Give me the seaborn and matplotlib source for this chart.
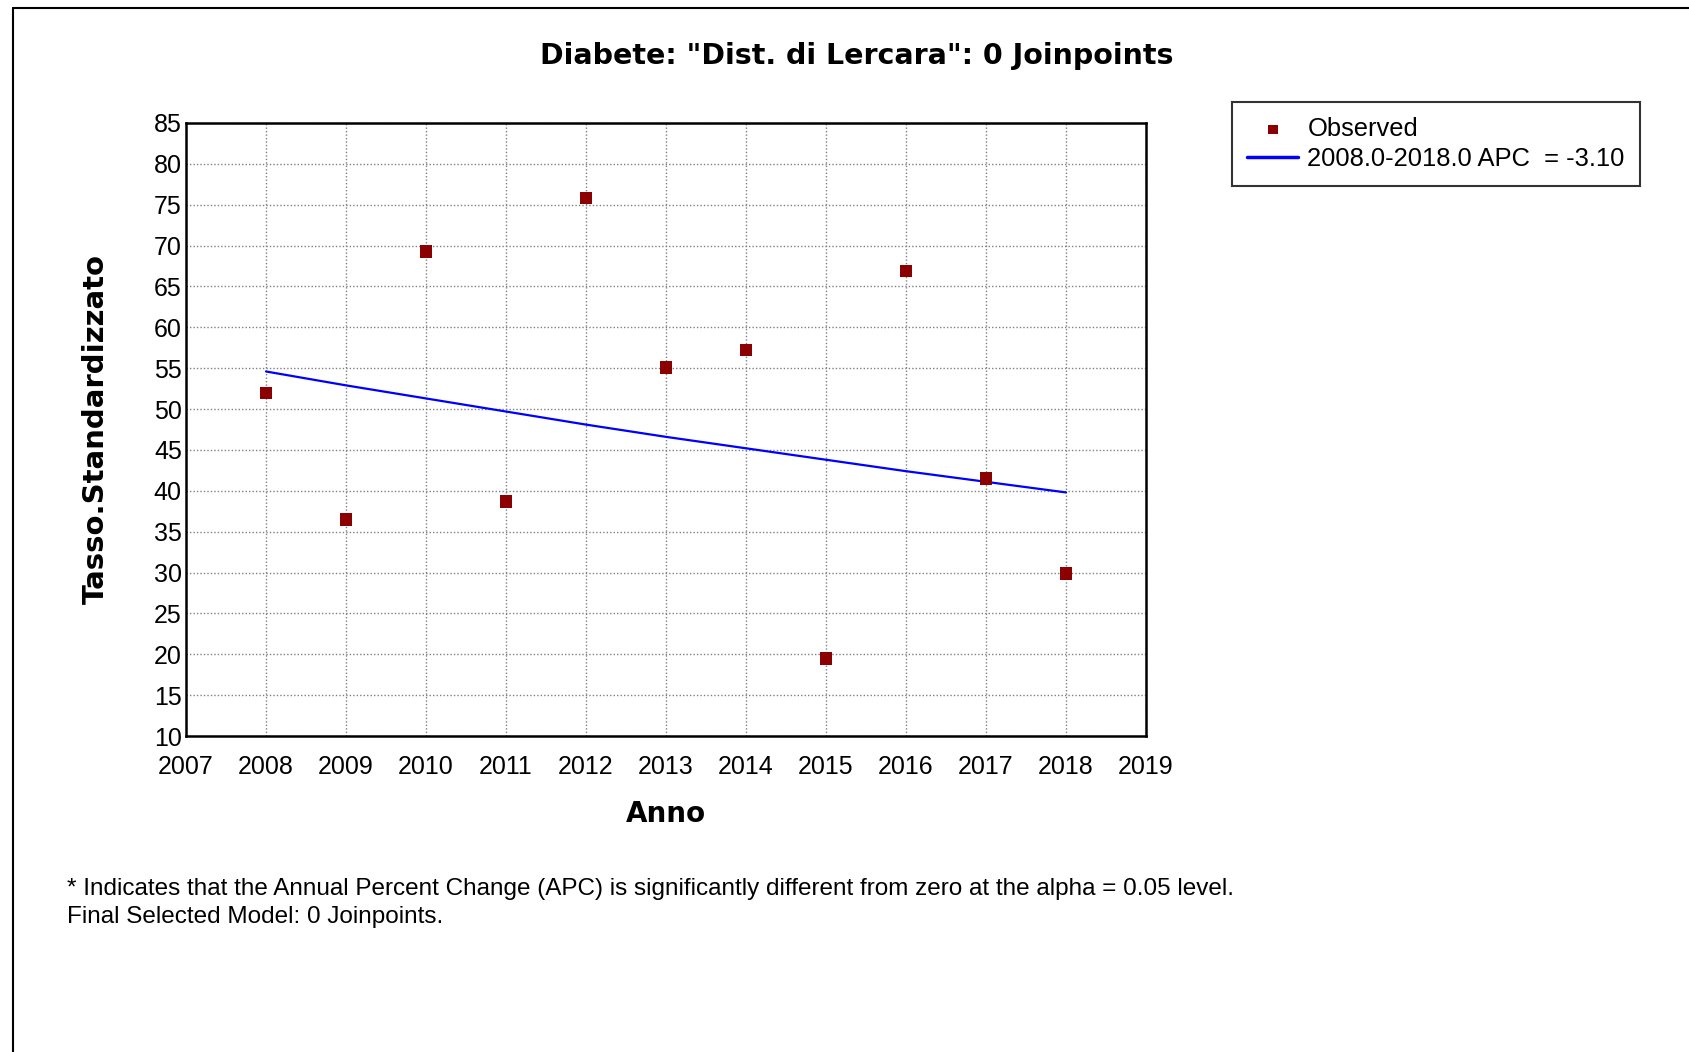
import numpy as np
import pandas as pd
import matplotlib.pyplot as plt
from matplotlib.lines import Line2D
import seaborn as sns

YEARS = [2008, 2009, 2010, 2011, 2012, 2013, 2014, 2015, 2016, 2017, 2018]
OBSERVED = [52.0, 36.5, 69.3, 38.7, 75.8, 55.1, 57.2, 19.5, 66.9, 41.5, 29.9]
FITTED = [54.6, 52.9, 51.3, 49.7, 48.1, 46.6, 45.2, 43.8, 42.4, 41.1, 39.8]
X_TICKS = list(range(2007, 2020))
Y_TICKS = list(range(10, 90, 5))

TITLE = 'Diabete: "Dist. di Lercara": 0 Joinpoints'
FIT_LABEL = "2008.0-2018.0 APC  = -3.10"
FOOTNOTE = [
    "* Indicates that the Annual Percent Change (APC) is significantly different from zero at the alpha = 0.05 level.",
    "Final Selected Model: 0 Joinpoints.",
]

sns.set_style("white")
plt.rcParams["font.family"] = ["Liberation Sans", "DejaVu Sans"]
plt.rcParams["text.color"] = "black"
plt.rcParams["axes.labelcolor"] = "black"

df = pd.DataFrame({"Anno": YEARS, "Observed": OBSERVED, "Fitted": FITTED})

fig = plt.figure(figsize=(16.89, 10.52), dpi=100)
ax = fig.add_axes([186 / 1689, 1 - 736 / 1052, 960 / 1689, 613 / 1052])

sns.lineplot(data=df, x="Anno", y="Fitted", ax=ax, color="#0000ff",
             linewidth=1.6, label=FIT_LABEL, zorder=3)
sns.scatterplot(data=df, x="Anno", y="Observed", ax=ax, marker="s",
                color="#8b0000", s=80, edgecolor="none", label="Observed", zorder=4)

ax.set_xlim(2007, 2019)
ax.set_ylim(10, 85)
ax.set_xticks(X_TICKS)
ax.set_yticks(Y_TICKS)
ax.grid(True, color="#808080", linestyle=(0, (1, 1.5)), linewidth=1.0)
ax.tick_params(axis="both", length=0, labelsize=18, colors="black")
ax.tick_params(axis="x", pad=14)
ax.tick_params(axis="y", pad=3)
for sp in ax.spines.values():
    sp.set_color("black")
    sp.set_linewidth(1.8)

ax.set_xlabel("Anno", family="DejaVu Sans", fontweight="bold", fontsize=20, labelpad=15)
ax.set_ylabel("Tasso.Standardizzato", family="DejaVu Sans", fontweight="bold", fontsize=21)
ax.yaxis.set_label_coords(-0.079, 0.5)

handles, labels = ax.get_legend_handles_labels()
ax.get_legend().remove()
order = [labels.index("Observed"), labels.index(FIT_LABEL)]
leg = fig.legend([handles[i] for i in order], [labels[i] for i in order],
                 loc="upper left", bbox_to_anchor=(1232 / 1689, 1 - 102 / 1052),
                 borderaxespad=0, frameon=True, fancybox=False, edgecolor="black",
                 fontsize=18.4, handlelength=2.0, handletextpad=0.35, labelspacing=0.22,
                 borderpad=0.6, markerscale=0.75)
leg.get_frame().set_linewidth(1.5)
for ln in leg.get_lines():
    ln.set_linewidth(2.5)

fig.text(857 / 1689, 1 - 56 / 1052, TITLE, family="DejaVu Sans", fontweight="bold",
         fontsize=20.5, ha="center", va="center")
fig.text(67 / 1689, 1 - 889 / 1052, FOOTNOTE[0], fontsize=17.5, ha="left", va="center")
fig.text(67 / 1689, 1 - 917 / 1052, FOOTNOTE[1], fontsize=17.5, ha="left", va="center")

# outer window frame
fig.add_artist(Line2D([13 / 1689, 13 / 1689], [0, 1 - 8 / 1052], transform=fig.transFigure,
                      color="black", linewidth=1.5))
fig.add_artist(Line2D([13 / 1689, 1], [1 - 8 / 1052, 1 - 8 / 1052], transform=fig.transFigure,
                      color="black", linewidth=1.5))

fig.savefig("out.png", dpi=100)
